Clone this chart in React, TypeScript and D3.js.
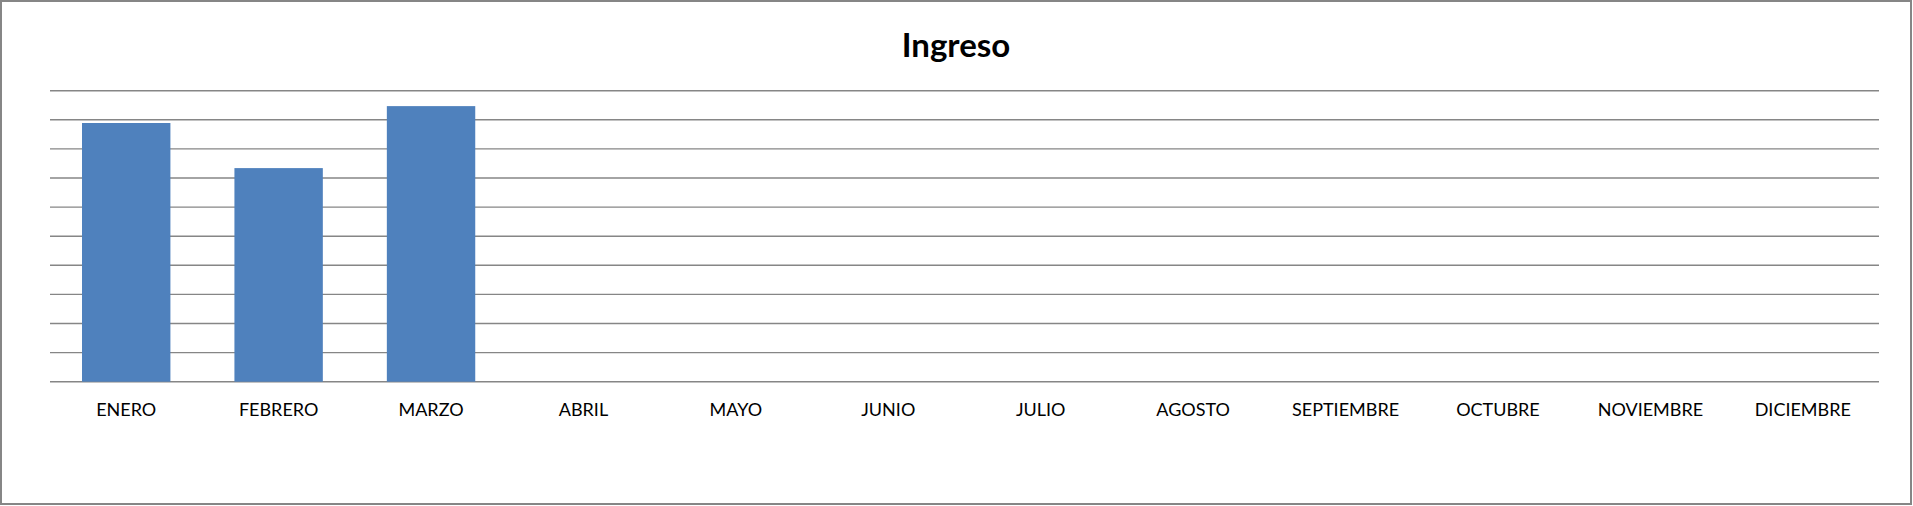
import React from "react";
import * as d3 from "d3";

const months = ["ENERO","FEBRERO","MARZO","ABRIL","MAYO","JUNIO","JULIO","AGOSTO","SEPTIEMBRE","OCTUBRE","NOVIEMBRE","DICIEMBRE"];
const ingreso: (number | null)[] = [8.89, 7.34, 9.47, null, null, null, null, null, null, null, null, null];
const gridTicks = [0,1,2,3,4,5,6,7,8,9,10];
const title = "Ingreso";

export default function App() {
  const W = 1913, H = 506;
  const left = 50, right = 1879, top = 90.7, bottom = 381.7;
  const x = d3.scaleBand<string>().domain(months).range([left, right]).paddingInner(0.42).paddingOuter(0.21);
  const y = d3.scaleLinear().domain([0, 10]).range([bottom, top]);
  const font = "Lato, 'Open Sans', sans-serif";
  return (
    <svg width={W} height={H} style={{ position: "absolute", left: 0, top: 0, background: "#fff" }}>
      <rect x={1} y={1} width={1910} height={503} fill="#fff" stroke="#868686" strokeWidth={2} />
      <text x={956} y={56.7} textAnchor="middle" fontFamily={font} fontWeight={700} fontSize={33} fill="#000">{title}</text>
      {gridTicks.map(t => (
        <line key={t} x1={left} x2={right} y1={y(t)} y2={y(t)} stroke="#868686" strokeWidth={1.4} />
      ))}
      {months.map((m, i) => ingreso[i] == null ? null : (
        <rect key={m} x={x(m)} y={y(ingreso[i] as number)} width={x.bandwidth()} height={bottom - y(ingreso[i] as number)} fill="#4F81BD" />
      ))}
      {months.map(m => (
        <text key={m} x={(x(m) as number) + x.bandwidth() / 2} y={416} textAnchor="middle" fontFamily={font} fontSize={18} fill="#000">{m}</text>
      ))}
    </svg>
  );
}
